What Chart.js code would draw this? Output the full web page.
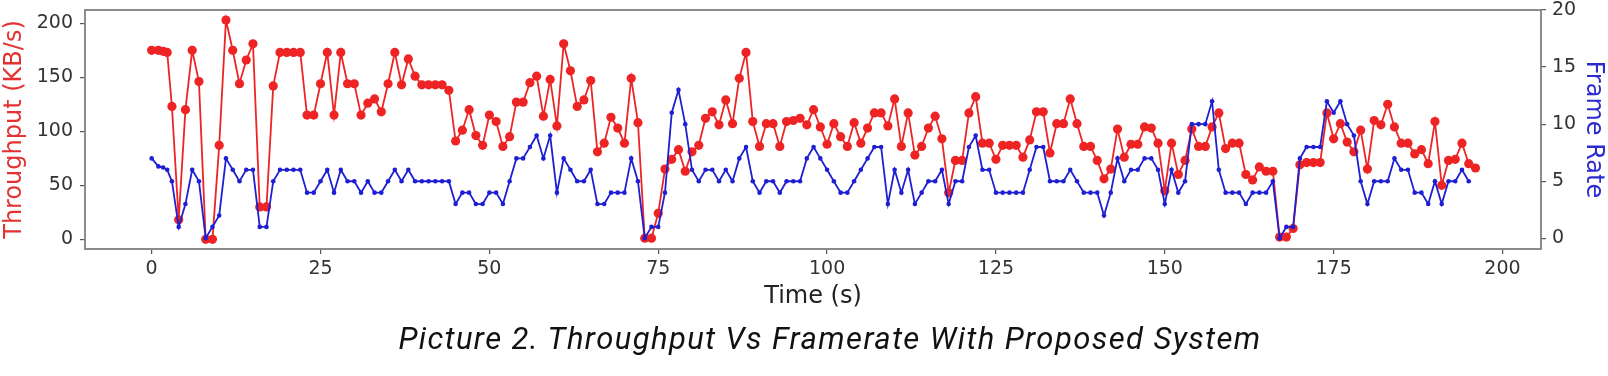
<!DOCTYPE html>
<html>
<head>
<meta charset="utf-8">
<title>Throughput Vs Framerate</title>
<script src="https://cdn.jsdelivr.net/npm/chart.js"></script>
<style>
  body { margin: 0; background: #fff; }
  #wrap { position: relative; width: 1608px; height: 376px; }
  #caption {
    position: absolute; left: 0; width: 1660px; top: 321px;
    text-align: center; font: italic 31px Roboto, sans-serif; letter-spacing: 1.4px;
    line-height: 36px; color: #111;
  }
</style>
</head>
<body>
<div id="wrap">
  <canvas id="chart" width="1608" height="376"></canvas>
  <div id="caption">Picture 2. Throughput Vs Framerate With Proposed System</div>
</div>
<script>
const times = [0, 1, 1.7, 2.3, 3,
  4, 5, 6, 7, 8, 9, 10, 11, 12, 13, 14, 15, 16, 17, 18, 19, 20, 21, 22, 23,
  24, 25, 26, 27, 28, 29, 30, 31, 32, 33, 34, 35, 36, 37, 38, 39, 40, 41, 42, 43,
  44, 45, 46, 47, 48, 49, 50, 51, 52, 53, 54, 55, 56, 57, 58, 59, 60, 61, 62, 63,
  64, 65, 66, 67, 68, 69, 70, 71, 72, 73, 74, 75, 76, 77, 78, 79, 80, 81, 82, 83,
  84, 85, 86, 87, 88, 89, 90, 91, 92, 93, 94, 95, 96, 97, 98, 99, 100, 101, 102, 103,
  104, 105, 106, 107, 108, 109, 110, 111, 112, 113, 114, 115, 116, 117, 118, 119, 120, 121, 122, 123,
  124, 125, 126, 127, 128, 129, 130, 131, 132, 133, 134, 135, 136, 137, 138, 139, 140, 141, 142, 143,
  144, 145, 146, 147, 148, 149, 150, 151, 152, 153, 154, 155, 156, 157, 158, 159, 160, 161, 162, 163,
  164, 165, 166, 167, 168, 169, 170, 171, 172, 173, 174, 175, 176, 177, 178, 179, 180, 181, 182, 183,
  184, 185, 186, 187, 188, 189, 190, 191, 192, 193, 194, 195, 196];

// KB/s
const throughput = [175, 175, 174, 173, 123,
  18, 120, 175, 146, 0, 0, 87, 203, 175, 144, 166, 181, 30, 30, 142, 173, 173, 173, 173, 115,
  115, 144, 173, 115, 173, 144, 144, 115, 126, 130, 118, 144, 173, 143, 167, 151, 143, 143, 143, 143,
  138, 91, 101, 120, 96, 87, 115, 109, 86, 95, 127, 127, 145, 151, 114, 148, 105, 181, 156, 123,
  129, 147, 81, 89, 113, 103, 89, 149, 108, 1, 1, 24, 65, 74, 83, 63, 81, 87, 112, 118,
  106, 129, 107, 149, 173, 109, 86, 107, 107, 86, 109, 110, 112, 106, 120, 104, 88, 107, 95, 86,
  108, 89, 103, 117, 117, 105, 130, 86, 117, 78, 86, 103, 114, 93, 43, 73, 73, 117, 132, 89,
  89, 74, 87, 87, 87, 76, 92, 118, 118, 80, 107, 107, 130, 107, 86, 86, 73, 56, 65, 102,
  76, 88, 88, 104, 103, 89, 45, 89, 60, 73, 102, 86, 86, 104, 117, 84, 89, 89, 60, 55,
  67, 63, 63, 2, 2, 10, 69, 71, 71, 71, 117, 93, 107, 90, 81, 101, 65, 110, 106, 125,
  104, 89, 89, 79, 83, 70, 109, 50, 73, 74, 89, 70, 66];

const frameRate = [7, 6.3, 6.2, 6, 5,
  1, 3, 6, 5, 0, 1, 2, 7, 6, 5, 6, 6, 1, 1, 5, 6, 6, 6, 6, 4,
  4, 5, 6, 4, 6, 5, 5, 4, 5, 4, 4, 5, 6, 5, 6, 5, 5, 5, 5, 5,
  5, 3, 4, 4, 3, 3, 4, 4, 3, 5, 7, 7, 8, 9, 7, 9, 4, 7, 6, 5,
  5, 6, 3, 3, 4, 4, 4, 7, 5, 0, 1, 1, 4, 11, 13, 10, 6, 5, 6, 6,
  5, 6, 5, 7, 8, 5, 4, 5, 5, 4, 5, 5, 5, 7, 8, 7, 6, 5, 4, 4,
  5, 6, 7, 8, 8, 3, 6, 4, 6, 3, 4, 5, 5, 6, 3, 5, 5, 8, 9, 6,
  6, 4, 4, 4, 4, 4, 6, 8, 8, 5, 5, 5, 6, 5, 4, 4, 4, 2, 4, 7,
  5, 6, 6, 7, 7, 6, 3, 6, 4, 5, 10, 10, 10, 12, 6, 4, 4, 4, 3, 4,
  4, 4, 5, 0, 1, 1, 7, 8, 8, 8, 12, 11, 12, 10, 9, 5, 3, 5, 5, 5,
  7, 6, 6, 4, 4, 3, 5, 3, 5, 5, 6, 5, null];

const timeTicks = [0, 25, 50, 75, 100, 125, 150, 175, 200];
const throughputTicks = [0, 50, 100, 150, 200];
const frameTicks = [0, 5, 10, 15, 20];

const RED = '#ee2424';
const BLUE = '#1e1ed2';
const tickFont = { family: 'DejaVu Sans', size: 19 };
const titleFont = { family: 'DejaVu Sans', size: 24 };

const setTicks = (values) => (scale) => { scale.ticks = values.map((v) => ({ value: v })); };

// box round the plot, like the matplotlib spines
const frameBox = {
  id: 'frameBox',
  afterDatasetsDraw(chart) {
    const { ctx, chartArea: a } = chart;
    ctx.save();
    ctx.strokeStyle = '#808080';
    ctx.lineWidth = 1.8;
    ctx.strokeRect(a.left, a.top, a.right - a.left, a.bottom - a.top);
    ctx.restore();
  }
};

new Chart(document.getElementById('chart'), {
  type: 'line',
  data: {
    datasets: [
      {
        label: 'Frame Rate',
        data: times.map((t, i) => ({ x: t, y: frameRate[i] })),
        yAxisID: 'yFrame',
        borderColor: BLUE,
        backgroundColor: BLUE,
        borderWidth: 1.8,
        pointRadius: 2.3,
        pointBorderWidth: 0,
        order: 1
      },
      {
        label: 'Throughput',
        data: times.map((t, i) => ({ x: t, y: throughput[i] })),
        yAxisID: 'y',
        borderColor: RED,
        backgroundColor: RED,
        borderWidth: 1.8,
        pointRadius: 4.6,
        pointBorderWidth: 0,
        order: 2
      }
    ]
  },
  options: {
    responsive: false,
    animation: false,
    layout: { padding: { top: 10, bottom: 65, left: 0, right: 0 } },
    plugins: { legend: { display: false }, tooltip: { enabled: false } },
    scales: {
      x: {
        type: 'linear',
        min: -9.87,
        max: 205.7,
        afterBuildTicks: setTicks(timeTicks),
        afterFit: (s) => { s.height = 62; s.paddingLeft = 0; s.paddingRight = 0; },
        grid: { drawOnChartArea: false, tickLength: 5, color: '#555', lineWidth: 1.2 },
        border: { display: false },
        ticks: { font: tickFont, color: '#333', padding: 4, maxRotation: 0 },
        title: { display: true, text: 'Time (s)', font: titleFont, color: '#222', padding: 0 }
      },
      y: {
        position: 'left',
        min: -9,
        max: 212.3,
        afterBuildTicks: setTicks(throughputTicks),
        afterFit: (s) => { s.width = 85; s.paddingTop = 0; s.paddingBottom = 0; },
        grid: { drawOnChartArea: false, tickLength: 5, color: '#555', lineWidth: 1.2 },
        border: { display: false },
        ticks: { font: tickFont, color: '#333', padding: 7 },
        title: { display: true, text: 'Throughput (KB/s)', font: titleFont, color: '#e43232', padding: 0 }
      },
      yFrame: {
        position: 'right',
        min: -0.937,
        max: 20,
        afterBuildTicks: setTicks(frameTicks),
        afterFit: (s) => { s.width = 67; s.paddingTop = 0; s.paddingBottom = 0; },
        grid: { drawOnChartArea: false, tickLength: 5, color: '#555', lineWidth: 1.2 },
        border: { display: false },
        ticks: { font: tickFont, color: '#333', padding: 6 },
        title: { display: true, text: 'Frame Rate', font: titleFont, color: '#2b2bd0', padding: 0 }
      }
    }
  },
  plugins: [frameBox]
});
</script>
</body>
</html>
